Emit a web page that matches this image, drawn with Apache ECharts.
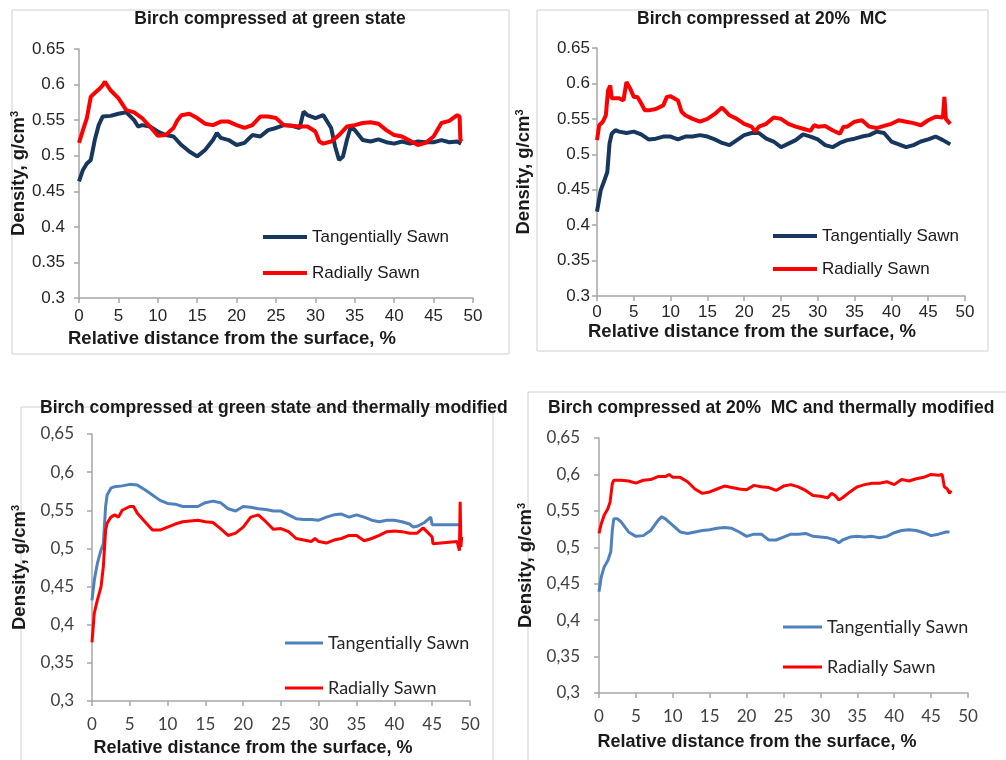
<!DOCTYPE html>
<html><head><meta charset="utf-8">
<script src="https://cdn.jsdelivr.net/npm/echarts@6/dist/echarts.min.js"></script>
<style>html,body{margin:0;padding:0;background:#fff}#c{width:1006px;height:760px}</style>
</head><body><div id="c"></div>
<script>
// ---------- data ----------
const panelTitles = [
  'Birch compressed at green state',
  'Birch compressed at 20%  MC',
  'Birch compressed at green state and thermally modified',
  'Birch compressed at 20%  MC and thermally modified'
];
const legendLabels = ['Tangentially Sawn', 'Radially Sawn'];
const xAxisTitle = 'Relative distance from the surface, %';
const yAxisTitle = 'Density, g/cm{sup|3}';
const yTickLabelsDot = ['0.3','0.35','0.4','0.45','0.5','0.55','0.6','0.65'];
const yTickLabelsComma = ['0,3','0,35','0,4','0,45','0,5','0,55','0,6','0,65'];

// Panel 1: green state
const greenTang = [[0,0.464],[0.5,0.480],[1,0.489],[1.5,0.494],[2,0.522],[2.5,0.543],[3,0.555],[4,0.556],[5,0.559],[6,0.561],[7,0.550],[7.5,0.541],[8,0.543],[9,0.541],[10,0.534],[11,0.529],[12,0.527],[13,0.515],[14,0.506],[15,0.499],[16,0.508],[17,0.522],[17.5,0.532],[18,0.525],[19,0.522],[20,0.515],[21,0.518],[22,0.529],[23,0.527],[24,0.536],[25,0.539],[26,0.543],[27,0.542],[28,0.539],[28.5,0.562],[29,0.557],[30,0.553],[31,0.557],[32,0.539],[32.5,0.513],[33,0.494],[33.5,0.499],[34,0.522],[34.5,0.541],[35,0.536],[36,0.522],[37,0.520],[38,0.523],[39,0.519],[40,0.517],[41,0.520],[42,0.517],[43,0.520],[44,0.519],[45,0.519],[46,0.522],[47,0.519],[48,0.520],[48.5,0.517]];
const greenRad = [[0,0.518],[0.5,0.536],[1,0.553],[1.5,0.583],[2,0.588],[2.5,0.593],[3,0.599],[3.3,0.604],[4,0.592],[5,0.581],[6,0.564],[7,0.561],[8,0.553],[9,0.541],[10,0.528],[11,0.529],[12,0.539],[12.5,0.550],[13,0.557],[14,0.559],[15,0.553],[16,0.545],[17,0.543],[18,0.548],[19,0.548],[20,0.543],[21,0.539],[22,0.543],[23,0.555],[24,0.555],[25,0.553],[26,0.543],[27,0.542],[28,0.541],[29,0.541],[30,0.534],[30.5,0.520],[31,0.517],[32,0.520],[33,0.529],[34,0.541],[35,0.543],[36,0.546],[37,0.547],[38,0.545],[39,0.536],[40,0.529],[41,0.527],[42,0.521],[43,0.515],[44,0.518],[45,0.527],[46,0.546],[47,0.549],[48,0.557],[48.3,0.555],[48.4,0.522],[48.6,0.520]];

// Panel 2: 20% MC
const mcTang = [[0,0.419],[0.5,0.449],[1,0.463],[1.4,0.475],[1.7,0.515],[2,0.529],[2.5,0.534],[3,0.532],[4,0.530],[5,0.532],[6,0.528],[7,0.521],[8,0.522],[9,0.525],[10,0.525],[11,0.521],[12,0.525],[13,0.525],[14,0.527],[15,0.525],[16,0.521],[17,0.516],[18,0.513],[19,0.520],[20,0.527],[21,0.530],[22,0.530],[23,0.522],[24,0.518],[25,0.510],[26,0.515],[27,0.520],[28,0.528],[29,0.525],[30,0.521],[31,0.513],[32,0.510],[33,0.516],[34,0.520],[35,0.522],[36,0.525],[37,0.527],[38,0.532],[39,0.530],[40,0.518],[41,0.514],[42,0.510],[43,0.513],[44,0.518],[45,0.521],[46,0.525],[47,0.520],[48,0.514]];
const mcRad = [[0,0.520],[0.3,0.541],[0.8,0.546],[1.2,0.555],[1.5,0.590],[1.8,0.597],[2,0.579],[2.5,0.579],[3,0.579],[3.6,0.576],[4,0.602],[4.5,0.593],[5,0.581],[5.5,0.581],[6,0.572],[6.5,0.562],[7,0.562],[8,0.564],[9,0.569],[9.5,0.581],[10,0.582],[11,0.576],[11.5,0.560],[12,0.555],[13,0.550],[14,0.546],[15,0.550],[16,0.557],[17,0.566],[18,0.555],[19,0.550],[20,0.543],[21,0.539],[21.5,0.532],[22,0.539],[23,0.543],[24,0.552],[25,0.550],[26,0.543],[27,0.539],[28,0.536],[29,0.533],[29.5,0.541],[30,0.539],[31,0.540],[32,0.534],[33,0.529],[33.5,0.539],[34,0.539],[35,0.546],[36,0.548],[37,0.539],[38,0.537],[39,0.540],[40,0.543],[41,0.548],[42,0.546],[43,0.544],[44,0.541],[45,0.548],[46,0.553],[47,0.552],[47.2,0.581],[47.4,0.550],[48,0.543]];

// Panel 3: green state + thermal
const greenThermTang = [[0,0.432],[0.3,0.458],[0.7,0.480],[1.2,0.498],[1.5,0.506],[1.8,0.555],[2,0.570],[2.5,0.579],[3,0.581],[4,0.582],[5,0.584],[6,0.583],[7,0.577],[8,0.570],[9,0.563],[10,0.559],[11,0.558],[12,0.555],[13,0.555],[14,0.555],[15,0.560],[16,0.562],[17,0.560],[18,0.552],[19,0.549],[20,0.555],[21,0.554],[22,0.552],[23,0.551],[24,0.549],[25,0.549],[26,0.544],[27,0.539],[28,0.538],[29,0.538],[30,0.537],[31,0.541],[32,0.544],[33,0.545],[34,0.541],[35,0.544],[36,0.541],[37,0.537],[38,0.535],[39,0.537],[40,0.537],[41,0.535],[42,0.532],[42.5,0.528],[43,0.529],[44,0.534],[44.8,0.541],[45,0.531],[48.6,0.531],[48.8,0.535]];
const greenThermRad = [[0,0.377],[0.3,0.415],[0.7,0.432],[1.2,0.450],[1.5,0.476],[1.8,0.524],[2,0.533],[2.5,0.541],[3,0.544],[3.5,0.541],[4,0.550],[5,0.555],[5.5,0.555],[6,0.546],[7,0.535],[8,0.524],[9,0.524],[10,0.528],[11,0.532],[12,0.535],[13,0.536],[14,0.537],[15,0.535],[16,0.534],[17,0.526],[18,0.517],[19,0.520],[20,0.528],[21,0.541],[22,0.544],[23,0.535],[24,0.525],[25,0.526],[26,0.522],[27,0.513],[28,0.511],[29,0.509],[29.5,0.513],[30,0.509],[31,0.507],[32,0.511],[33,0.513],[34,0.517],[35,0.517],[36,0.510],[37,0.513],[38,0.517],[39,0.522],[40,0.523],[41,0.522],[42,0.520],[43,0.520],[43.8,0.527],[44.5,0.520],[45,0.515],[45.1,0.506],[48.3,0.509],[48.6,0.497],[48.7,0.561],[48.8,0.502],[48.9,0.515]];

// Panel 4: 20% MC + thermal
const mcThermTang = [[0,0.439],[0.3,0.459],[0.7,0.473],[1.2,0.482],[1.6,0.494],[1.8,0.523],[2,0.539],[2.5,0.539],[3,0.535],[4,0.521],[5,0.515],[6,0.516],[7,0.523],[8,0.537],[8.5,0.542],[9,0.539],[10,0.530],[11,0.521],[12,0.519],[13,0.521],[14,0.523],[15,0.524],[16,0.526],[17,0.527],[18,0.526],[19,0.521],[20,0.515],[21,0.518],[22,0.518],[23,0.510],[24,0.510],[25,0.514],[26,0.518],[27,0.518],[28,0.519],[29,0.515],[30,0.514],[31,0.513],[32,0.510],[32.5,0.506],[33,0.510],[34,0.514],[35,0.515],[36,0.514],[37,0.515],[38,0.513],[39,0.515],[40,0.520],[41,0.523],[42,0.524],[43,0.523],[44,0.520],[45,0.516],[46,0.518],[47,0.521],[47.5,0.521]];
const mcThermRad = [[0,0.519],[0.3,0.532],[0.7,0.544],[1.2,0.553],[1.5,0.562],[1.8,0.587],[2,0.592],[3,0.592],[4,0.591],[5,0.588],[6,0.592],[7,0.593],[8,0.597],[9,0.597],[9.5,0.600],[10,0.596],[11,0.596],[12,0.590],[13,0.580],[14,0.574],[15,0.576],[16,0.580],[17,0.584],[18,0.582],[19,0.580],[20,0.579],[21,0.585],[22,0.583],[23,0.582],[24,0.578],[25,0.584],[26,0.586],[27,0.583],[28,0.578],[29,0.571],[30,0.570],[31,0.568],[31.5,0.574],[32,0.571],[32.5,0.565],[33,0.568],[34,0.576],[35,0.583],[36,0.586],[37,0.588],[38,0.588],[39,0.590],[40,0.586],[41,0.593],[42,0.591],[43,0.594],[44,0.596],[45,0.600],[46,0.599],[46.5,0.600],[46.8,0.583],[47.2,0.580],[47.5,0.574],[47.7,0.578]];

const panelData = [[greenTang, greenRad],[mcTang, mcRad],[greenThermTang, greenThermRad],[mcThermTang, mcThermRad]];

// ---------- layout / style ----------
const navy = '#17375E', red = '#FF0000', lightBlue = '#4F81BD';
const axisGray = '#A6A6A6';
const panels = [
  {grid:{left:79,right:533,top:49,bottom:462}, top:true, colors:[navy,red], lw:4,
   title:{left:270,top:10,textAlign:'center'}, yGap:51, xGap:31, xPad:88, xMargin:10, yMargin:14,
   legend:{left:263,top:228.5,itemWidth:44,itemHeight:4,itemGap:19}, frame:[12,10,497,344]},
  {grid:{left:597,right:41,top:48,bottom:464}, top:true, colors:[navy,red], lw:4,
   title:{left:762,top:10,textAlign:'center'}, yGap:64, xGap:26, xPad:58, xMargin:8, yMargin:7,
   legend:{left:773,top:227.5,itemWidth:44,itemHeight:4,itemGap:16}, frame:[537,10,451,341]},
  {grid:{left:92,right:536,top:434,bottom:59}, top:false, colors:[lightBlue,red], lw:3,
   title:{left:40,top:399,textAlign:'left'}, yGap:63, xGap:38, xPad:56, xMargin:15, yMargin:18,
   legend:{left:285,top:634,itemWidth:38,itemHeight:3,itemGap:27}, frame:[21,407,472,370]},
  {grid:{left:599,right:38,top:438,bottom:67}, top:false, colors:[lightBlue,red], lw:3,
   title:{left:548,top:399,textAlign:'left'}, yGap:64, xGap:40, xPad:53, xMargin:15, yMargin:19,
   legend:{left:783,top:618,itemWidth:39,itemHeight:3,itemGap:22}, frame:[528,392,500,400]}
];

const arial = '"Liberation Sans", Arial, sans-serif';
const lato = 'Lato, "Liberation Sans", sans-serif';

const option = {
  animation:false,
  backgroundColor:'#fff',
  title:[], grid:[], xAxis:[], yAxis:[], legend:[], series:[],
  graphic:[]
};

panels.forEach((p, i) => {
  const tickFont = p.top ? arial : lato;
  const tickColor = p.top ? '#262626' : '#404040';
  const labels = p.top ? yTickLabelsDot : yTickLabelsComma;
  option.graphic.push({type:'rect', z:-1, silent:true,
    shape:{x:p.frame[0], y:p.frame[1], width:p.frame[2], height:p.frame[3]},
    style:{fill:'none', stroke:'#D0D0D0', lineWidth:1}});
  option.title.push({text:panelTitles[i], left:p.title.left, top:p.title.top, textAlign:p.title.textAlign, padding:0,
    textStyle:{fontFamily:arial, fontWeight:'bold', fontSize:17.5, color:'#1a1a1a'}});
  option.grid.push(Object.assign({containLabel:false}, p.grid));
  option.xAxis.push({type:'value', gridIndex:i, min:0, max:50, interval:5,
    name:xAxisTitle, nameLocation:'middle', nameGap:p.xGap,
    nameTextStyle:{fontFamily:arial, fontWeight:'bold', fontSize:p.top?18.5:18, color:'#1a1a1a', padding:[0,p.xPad,0,0]},
    axisLine:{lineStyle:{color:axisGray, width:1.5}},
    axisTick:{length:5, lineStyle:{color:axisGray, width:1.5}},
    splitLine:{show:false},
    axisLabel:{margin:p.xMargin, fontFamily:tickFont, fontSize:17, color:tickColor}});
  option.yAxis.push({type:'value', gridIndex:i, min:0.3, max:0.65, interval:0.05,
    name:yAxisTitle, nameLocation:'middle', nameGap:p.yGap, nameRotate:90,
    nameTextStyle:{fontFamily:arial, fontWeight:'bold', fontSize:18.5, color:'#1a1a1a',
      rich:{sup:{fontFamily:arial, fontWeight:'bold', fontSize:11, color:'#1a1a1a', verticalAlign:'top', padding:[0,0,8,0]}}},
    axisLine:{show:true, lineStyle:{color:axisGray, width:1.5}},
    axisTick:{show:true, length:5, lineStyle:{color:axisGray, width:1.5}},
    splitLine:{show:false},
    axisLabel:{margin:p.yMargin, fontFamily:tickFont, fontSize:17, color:tickColor,
      formatter:(v) => labels[Math.round((v - 0.3) / 0.05)]}});
  const names = legendLabels.map(l => l + '#' + i);
  option.legend.push({data:names, orient:'vertical', left:p.legend.left, top:p.legend.top,
    icon:'rect', itemWidth:p.legend.itemWidth, itemHeight:p.legend.itemHeight, itemGap:p.legend.itemGap, padding:0,
    formatter:(n) => n.split('#')[0],
    textStyle:{fontFamily:p.top?arial:lato, fontSize:p.top?17:18, color:p.top?'#1a1a1a':'#262626'}});
  panelData[i].forEach((d, k) => {
    option.series.push({type:'line', name:names[k], xAxisIndex:i, yAxisIndex:i,
      data:d, symbol:'none', showSymbol:false, smooth:false,
      lineStyle:{color:p.colors[k], width:p.lw}, itemStyle:{color:p.colors[k]}});
  });
});

const chart = echarts.init(document.getElementById('c'), null, {renderer:'canvas'});
chart.setOption(option);
</script>
</body></html>
